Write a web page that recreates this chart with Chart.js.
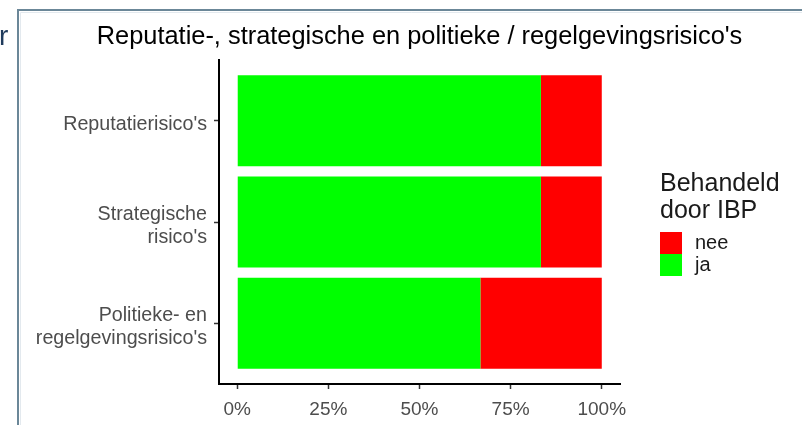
<!DOCTYPE html>
<html>
<head>
<meta charset="utf-8">
<script src="https://cdn.jsdelivr.net/npm/chart.js@4/dist/chart.umd.min.js"></script>
<style>
  body { margin: 0; background: #fff; }
  #wrap { width: 802px; height: 425px; }
</style>
</head>
<body>
<div id="wrap"><canvas id="chart" width="802" height="425"></canvas></div>
<script>
const categories = [["Reputatierisico's"], ["Strategische", "risico's"], ["Politieke- en", "regelgevingsrisico's"]];
const jaValues = [83.3, 83.3, 66.7];
const neeValues = [16.7, 16.7, 33.3];
const tickValues = [0, 25, 50, 75, 100];
const chartTitle = "Reputatie-, strategische en politieke / regelgevingsrisico's";
const legendTitle = ['Behandeld', 'door IBP'];

const fontFamily = '"Liberation Sans", Arial, sans-serif';

// frame, stray letter, title and legend drawn on top of the chart
const decorations = {
    id: 'decorations',
    beforeDraw(chart) {
        const ctx = chart.ctx;
        ctx.save();
        ctx.fillStyle = '#fff';
        ctx.fillRect(0, 0, chart.width, chart.height);
        ctx.restore();
    },
    afterDraw(chart) {
        const ctx = chart.ctx;
        const area = chart.chartArea;
        ctx.save();

        // outer frame
        ctx.strokeStyle = '#6b8798';
        ctx.lineWidth = 2;
        ctx.beginPath();
        ctx.moveTo(18, chart.height);
        ctx.lineTo(18, 10);
        ctx.lineTo(chart.width, 10);
        ctx.stroke();
        ctx.strokeStyle = '#e3e9ee';
        ctx.lineWidth = 1;
        ctx.beginPath();
        ctx.moveTo(20.5, chart.height);
        ctx.lineTo(20.5, 12.5);
        ctx.lineTo(chart.width, 12.5);
        ctx.stroke();

        ctx.fillStyle = '#1f3b5c';
        ctx.font = '28px ' + fontFamily;
        ctx.textBaseline = 'alphabetic';
        ctx.textAlign = 'left';
        ctx.fillText('r', -1, 45);

        // title centred on the panel
        ctx.fillStyle = '#000';
        ctx.font = '25.4px ' + fontFamily;
        ctx.textAlign = 'center';
        ctx.fillText(chartTitle, (area.left + area.right) / 2, 44);

        // legend
        ctx.textAlign = 'left';
        ctx.fillStyle = '#1a1a1a';
        ctx.font = '25px ' + fontFamily;
        legendTitle.forEach((line, i) => ctx.fillText(line, 660, 191 + i * 27));

        const items = chart.data.datasets.slice().reverse();
        ctx.font = '20px ' + fontFamily;
        items.forEach((ds, i) => {
            const y = 232 + i * 22;
            ctx.fillStyle = ds.backgroundColor;
            ctx.fillRect(660, y, 22, 22);
            ctx.fillStyle = '#1a1a1a';
            ctx.textBaseline = 'middle';
            ctx.fillText(ds.label, 695, y + 11);
        });
        ctx.restore();
    }
};

new Chart(document.getElementById('chart'), {
    type: 'bar',
    data: {
        labels: categories,
        datasets: [
            { label: 'ja', data: jaValues, backgroundColor: '#00ff00' },
            { label: 'nee', data: neeValues, backgroundColor: '#ff0000' }
        ]
    },
    options: {
        indexAxis: 'y',
        responsive: false,
        animation: false,
        devicePixelRatio: 1,
        barPercentage: 0.9,
        categoryPercentage: 1,
        layout: { padding: { top: 60, right: 182, left: 0, bottom: 0 } },
        plugins: {
            legend: { display: false },
            tooltip: { enabled: false }
        },
        scales: {
            x: {
                stacked: true,
                min: -5,
                max: 105,
                afterBuildTicks(scale) {
                    scale.ticks = tickValues.map(v => ({ value: v }));
                },
                afterFit(scale) { scale.height = 41; },
                ticks: {
                    callback: v => v + '%',
                    color: '#4d4d4d',
                    padding: 9,
                    maxRotation: 0,
                    font: { family: fontFamily, size: 19 }
                },
                grid: { drawOnChartArea: false, drawTicks: true, tickLength: 5, tickColor: '#333', tickWidth: 1.5 },
                border: { display: true, color: '#000', width: 2 }
            },
            y: {
                stacked: true,
                afterBuildTicks(scale) {
                    // ggplot-like discrete expansion (0.6 of a category on each side)
                    scale._startValue = -0.6;
                    scale._valueRange = 3.2;
                },
                afterFit(scale) { scale.width = 219; },
                ticks: {
                    color: '#4d4d4d',
                    padding: 7,
                    labelOffset: 4,
                    font: { family: fontFamily, size: 19.7, lineHeight: 1.2 }
                },
                grid: { offset: false, drawOnChartArea: false, drawTicks: true, tickLength: 5, tickColor: '#333', tickWidth: 1.5 },
                border: { display: true, color: '#000', width: 2 }
            }
        }
    },
    plugins: [decorations]
});
</script>
</body>
</html>
